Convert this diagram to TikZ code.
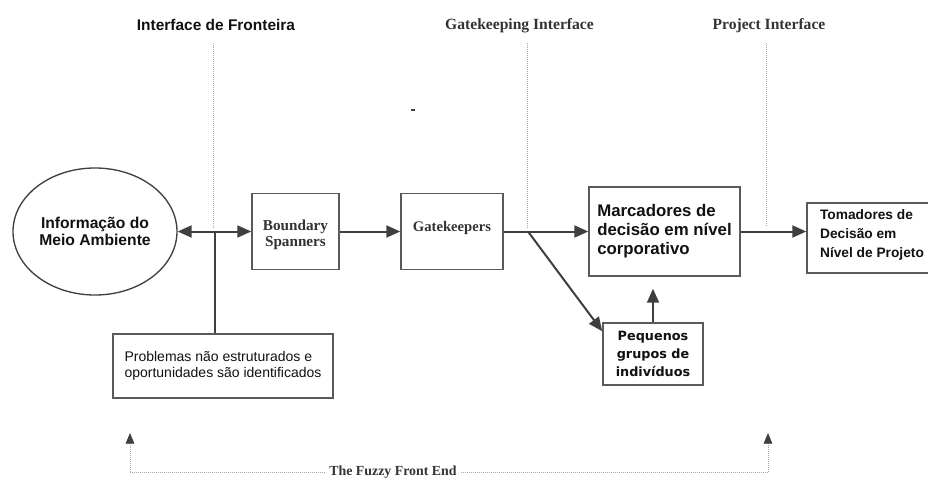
\documentclass[tikz,border=0pt]{standalone}
\usepackage{fontspec}
\setmainfont{Liberation Sans}
\newfontfamily\tnr{Liberation Serif}
\newfontfamily\dvs{DejaVu Sans}
\usetikzlibrary{arrows.meta,shapes.geometric,calc}

\definecolor{linegray}{HTML}{3F3F3F}
\definecolor{boxgray}{HTML}{5A5A5A}
\definecolor{guidegray}{HTML}{A8A8A8}
\definecolor{labelgray}{HTML}{333333}
\definecolor{inkblack}{HTML}{111111}

\begin{document}
\begin{tikzpicture}[x=0.75pt,y=-0.75pt,
  box/.style={draw=boxgray, line width=1.1pt, fill=white, inner sep=0pt, text=inkblack},
  flow/.style={draw=linegray, line width=1.5pt, -{Triangle[length=10.5pt,width=9pt]}},
  guide/.style={draw=guidegray, line width=0.6pt, dash pattern=on 0.6pt off 0.9pt},
  serifl/.style={font=\tnr\bfseries\fontsize{11.7}{12}\selectfont, text=labelgray},
]
\useasboundingbox (0,0) rectangle (928,479);

% interface headings
\node[font=\bfseries\fontsize{11.6}{13}\selectfont, text=inkblack] (tf) at (216,25) {Interface de Fronteira};
\node[serifl] (tg) at (519.5,26) {Gatekeeping Interface};
\node[serifl] (tp) at (769,26) {Project Interface};

% interface guide lines
\coordinate (g1t) at (213,43);  \coordinate (g1b) at (213,228);
\coordinate (g2t) at (527,43);  \coordinate (g2b) at (527,228);
\coordinate (g3t) at (766,43);  \coordinate (g3b) at (766,227);
\draw[guide] (g1t) -- (g1b);
\draw[guide] (g2t) -- (g2b);
\draw[guide] (g3t) -- (g3b);

% small stray mark
\coordinate (m1) at (411,110); \coordinate (m2) at (415,110);
\draw[linegray, line width=1.5pt] (m1) -- (m2);

% main nodes
\node[ellipse, draw=linegray, line width=1pt, minimum width=164*0.75pt, minimum height=127*0.75pt,
      inner sep=0pt, align=center, text=inkblack,
      font=\bfseries\fontsize{11.75}{12.75}\selectfont] (env) at (95,231.5) {Informação do\\Meio Ambiente};

\node[box, minimum width=87*0.75pt, minimum height=76*0.75pt,
      label={[yshift=-2.5pt, align=center, text=labelgray,
              font=\tnr\bfseries\fontsize{11.4}{12}\selectfont]center:Boundary\\Spanners}] (bs) at (295.5,231.5) {};

\node[box, minimum width=102*0.75pt, minimum height=76*0.75pt,
      label={[yshift=2.5pt, text=labelgray,
              font=\tnr\bfseries\fontsize{11}{12}\selectfont]center:Gatekeepers}] (gk) at (452,231.5) {};

\node[box, minimum width=151*0.75pt, minimum height=89*0.75pt, align=left,
      font=\bfseries\fontsize{12.6}{14.3}\selectfont] (mc) at (664.5,231.5) {Marcadores de\\decisão em nível\\corporativo};

\node[box, minimum width=130*0.75pt, minimum height=70*0.75pt,
      label={[yshift=2.5pt, align=left, text=inkblack,
              font=\bfseries\fontsize{10.3}{14.2}\selectfont]center:Tomadores de\\Decisão em\\Nível de Projeto}] (td) at (872,238) {};

\node[box, minimum width=100*0.75pt, minimum height=62*0.75pt, align=center,
      font=\dvs\bfseries\fontsize{9.6}{13.5}\selectfont] (pq) at (653,354) {Pequenos\\grupos de\\indivíduos};

\node[box, minimum width=220*0.75pt, minimum height=64*0.75pt, align=left,
      font=\fontsize{10.5}{12}\selectfont] (pr) at (223,366) {Problemas não estruturados e\\oportunidades são identificados};

% connectors
\coordinate (j1) at (215,231.5);
\coordinate (br) at (528,231.5);
\draw[flow, {Triangle[length=10.5pt,width=9pt]}-{Triangle[length=10.5pt,width=9pt]}] (env.east) -- (bs.west);
\draw[linegray, line width=1.5pt] (j1) -- (j1 |- pr.north);
\draw[flow] (bs) -- (gk);
\draw[flow] (gk) -- (mc);
\draw[flow] (br) -- ($(pq.north west)+(0,9)$);
\draw[flow] (pq.north) -- ($(pq.north |- mc.south)+(0,12)$);
\draw[flow] (mc.east) -- (mc.east -| td.west);

% fuzzy front end span
\node[font=\tnr\bfseries\fontsize{10.4}{12}\selectfont, text=labelgray] (ff) at (393,472) {The Fuzzy Front End};
\coordinate (fl) at (130,472);
\coordinate (fr) at (768,472);
\coordinate (flt) at (130,433);
\coordinate (frt) at (768,433);
\draw[guide, -{Triangle[length=8pt,width=6.5pt,color=linegray]}] (fl) -- (flt);
\draw[guide, -{Triangle[length=8pt,width=6.5pt,color=linegray]}] (fr) -- (frt);
\draw[guide] (fl) -- (ff.west);
\draw[guide] (ff.east) -- (fr);
\end{tikzpicture}
\end{document}
